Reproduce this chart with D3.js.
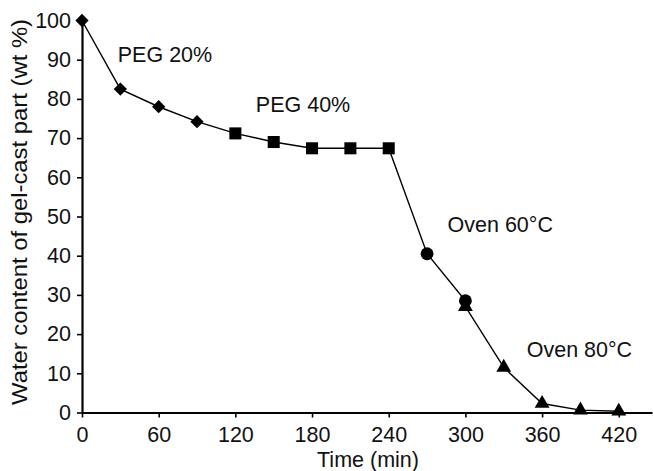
<!DOCTYPE html>
<html><head><meta charset="utf-8">
<script src="https://cdn.jsdelivr.net/npm/d3@7"></script>
<style>body{margin:0;background:#fff}text{font-family:"Liberation Sans",Arial,sans-serif;fill:#111}</style>
</head><body>
<svg id="c" width="653" height="471"></svg>
<script>
// data
const peg20Time = [0, 30, 60, 90];
const peg20Water = [100, 82.5, 78, 74.2];
const peg40Time = [120, 150, 180, 210, 240];
const peg40Water = [71.2, 69, 67.4, 67.4, 67.4];
const oven60Time = [270, 300];
const oven60Water = [40.5, 28.5];
const oven80Time = [300, 330, 360, 390, 420];
const oven80Water = [27, 11.5, 2.3, 0.6, 0.3];
const xTicks = [0, 60, 120, 180, 240, 300, 360, 420];
const yTicks = [0, 10, 20, 30, 40, 50, 60, 70, 80, 90, 100];
const annotations = [
  {text: "PEG 20%", t: 28, w: 89.4},
  {text: "PEG 40%", t: 136, w: 76.7},
  {text: "Oven 60°C", t: 286, w: 46.1},
  {text: "Oven 80°C", t: 348, w: 14.2}
];

const svg = d3.select("#c");
const x = d3.scaleLinear().domain([0, 446]).range([82, 652]);
const y = d3.scaleLinear().domain([0, 100]).range([412.5, 20.5]);
const FS = "21.5px";

const seriesList = [
  {t: peg20Time, v: peg20Water, sym: d3.symbolSquare, size: 88, rot: 45},
  {t: peg40Time, v: peg40Water, sym: d3.symbolSquare, size: 145, rot: 0},
  {t: oven60Time, v: oven60Water, sym: d3.symbolCircle, size: 130, rot: 0},
  {t: oven80Time, v: oven80Water, sym: d3.symbolTriangle, size: 95, rot: 0}
];

// axes
const xAxis = svg.append("g").attr("transform", `translate(0,${y(0)})`)
  .call(d3.axisBottom(x).tickValues(xTicks).tickSize(5).tickSizeOuter(0).tickPadding(9));
const yAxis = svg.append("g").attr("transform", `translate(${x(0)},0)`)
  .call(d3.axisLeft(y).tickValues(yTicks).tickSize(5).tickSizeOuter(0).tickPadding(6));
[xAxis, yAxis].forEach(g => {
  g.select(".domain").attr("stroke", "#000").attr("stroke-width", 2.2);
  g.selectAll(".tick line").attr("stroke", "#000").attr("stroke-width", 1.6);
  g.selectAll(".tick text").attr("font-size", FS).attr("font-family", "Liberation Sans, Arial, sans-serif").attr("fill", "#111");
});

// line through all points in order
const allPts = [];
seriesList.forEach((s, i) => s.t.forEach((t, j) => {
  if (i === 3 && j === 0) return;
  allPts.push([t, s.v[j]]);
}));
allPts.push([oven80Time[0], oven80Water[0]]);
allPts.sort((a, b) => a[0] - b[0] || b[1] - a[1]);
svg.append("path").datum(allPts)
  .attr("d", d3.line().x(d => x(d[0])).y(d => y(d[1])))
  .attr("fill", "none").attr("stroke", "#000").attr("stroke-width", 1.4);

// markers
seriesList.forEach(s => {
  svg.append("g").selectAll("path").data(s.t.map((t, j) => [t, s.v[j]])).join("path")
    .attr("transform", d => `translate(${x(d[0])},${y(d[1])}) rotate(${s.rot})`)
    .attr("d", d3.symbol().type(s.sym).size(s.size))
    .attr("fill", "#000");
});

// annotations
svg.append("g").selectAll("text").data(annotations).join("text")
  .attr("x", d => x(d.t)).attr("y", d => y(d.w))
  .attr("font-size", FS).text(d => d.text);

// axis titles
svg.append("text").attr("x", 368).attr("y", 467)
  .attr("text-anchor", "middle").attr("font-size", "21.5px").text("Time (min)");
svg.append("text").attr("transform", "translate(27,212) rotate(-90)")
  .attr("text-anchor", "middle").attr("font-size", "22px")
  .attr("textLength", 386).attr("lengthAdjust", "spacingAndGlyphs")
  .text("Water content of gel-cast part (wt %)");
</script>
</body></html>
